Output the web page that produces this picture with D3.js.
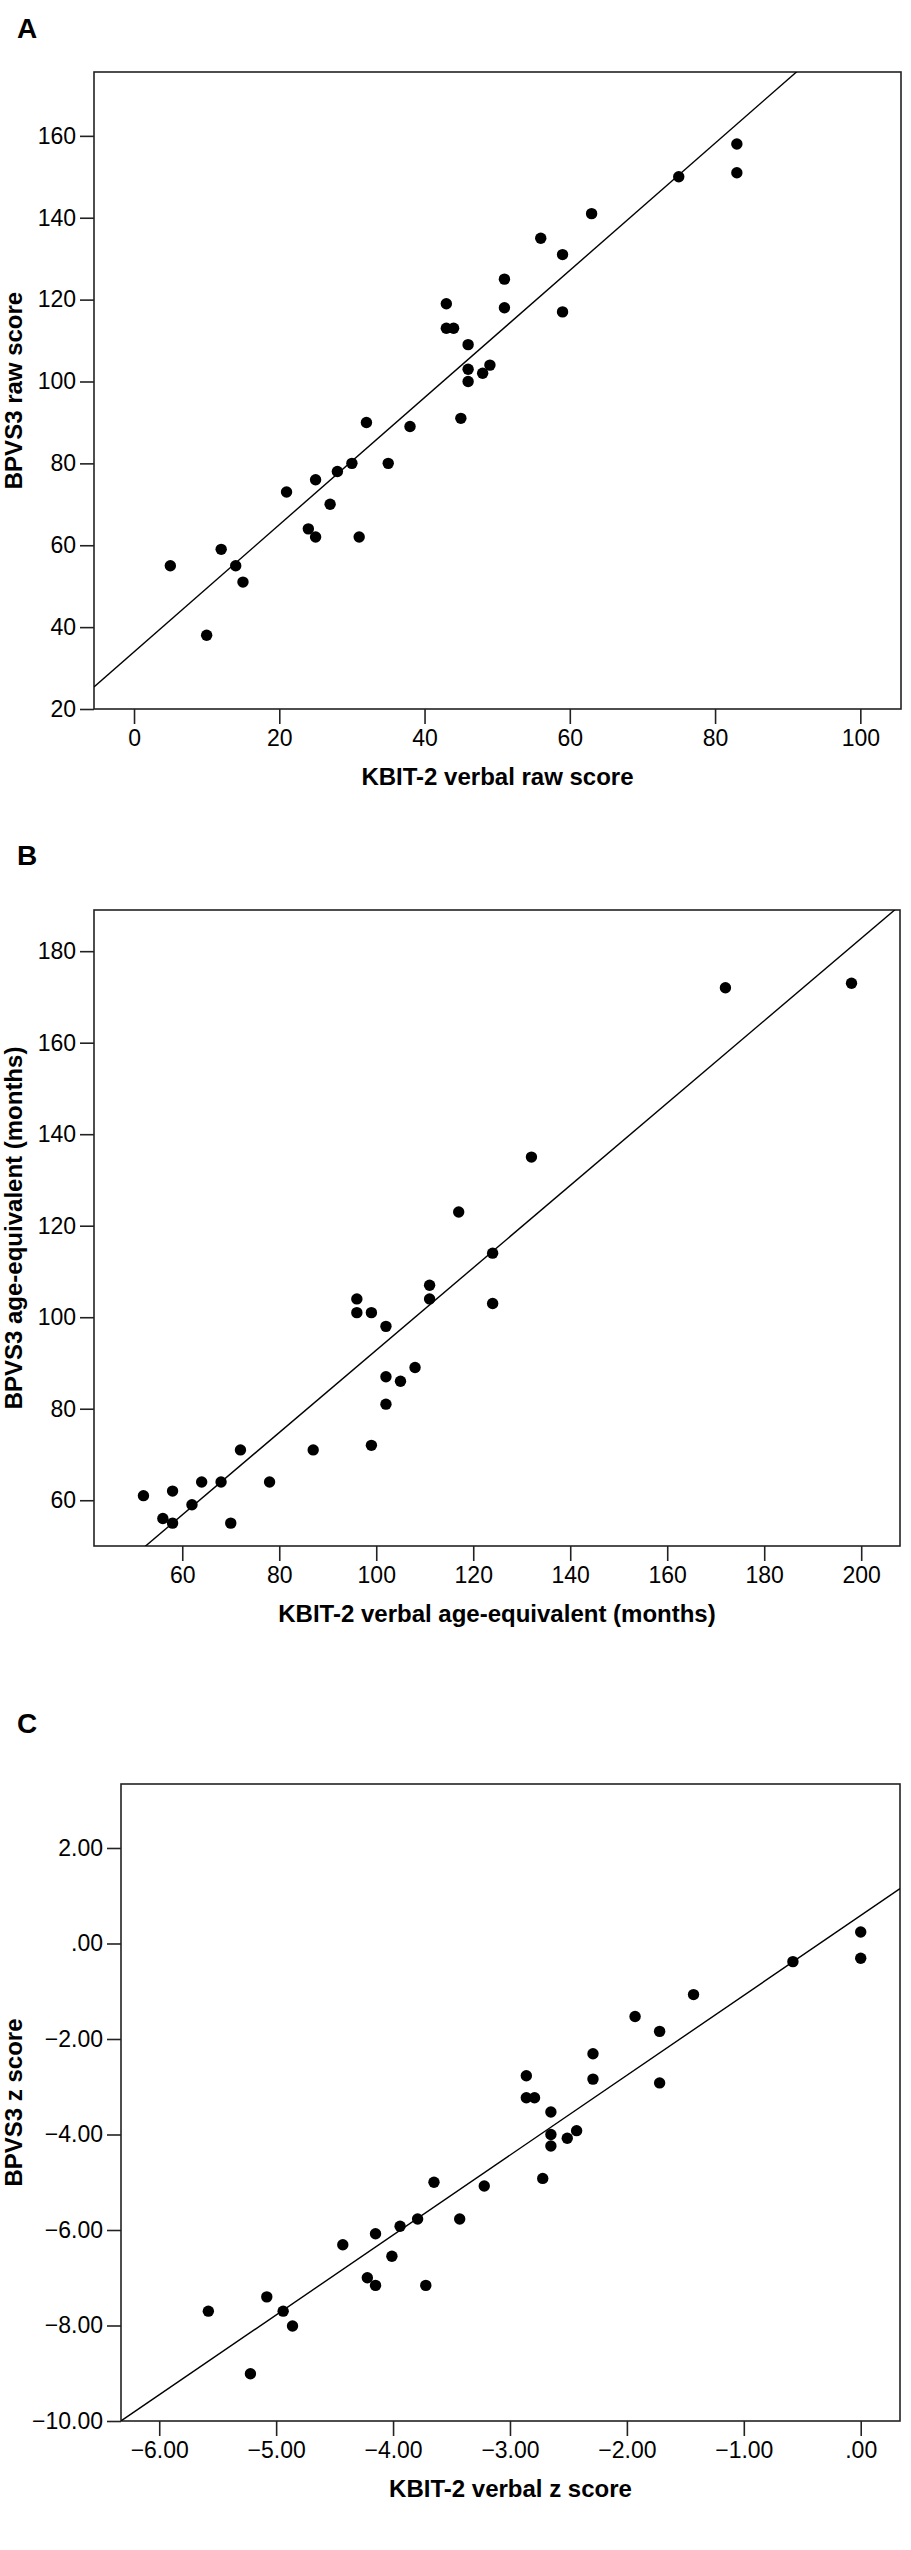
<!DOCTYPE html>
<html>
<head>
<meta charset="utf-8">
<script src="https://cdn.jsdelivr.net/npm/d3@7"></script>
<style>
  body { margin: 0; background: #fff; }
  svg { display: block; font-family: "Liberation Sans", Arial, sans-serif; }
</style>
</head>
<body>
<svg id="chart" width="911" height="2550"></svg>
<script>
// Panel A: raw scores
const rawKbit = [5, 10, 12, 14, 15, 21, 24, 25, 25, 27, 28, 30, 31, 32, 35, 38, 43, 43, 44, 45, 46, 46, 46, 48, 49, 51, 51, 56, 59, 59, 63, 75, 83, 83];
const rawBpvs = [55, 38, 59, 55, 51, 73, 64, 76, 62, 70, 78, 80, 62, 90, 80, 89, 119, 113, 113, 91, 109, 103, 100, 102, 104, 125, 118, 135, 131, 117, 141, 150, 158, 151];
const rawFit = { intercept: 33.96, slope: 1.553 };

// Panel B: age-equivalents (months)
const ageKbit = [52, 56, 58, 58, 62, 64, 68, 70, 72, 78, 87, 96, 96, 99, 99, 102, 102, 102, 105, 108, 111, 111, 117, 124, 124, 132, 172, 198];
const ageBpvs = [61, 56, 62, 55, 59, 64, 64, 55, 71, 64, 71, 104, 101, 101, 72, 98, 87, 81, 86, 89, 107, 104, 123, 114, 103, 135, 172, 173];
const ageFit = { intercept: 2.8, slope: 0.90 };

// Panel C: z scores
const zKbit = [-5.58, -5.22, -5.08, -4.94, -4.86, -4.43, -4.22, -4.15, -4.15, -4.01, -3.94, -3.79, -3.72, -3.65, -3.43, -3.22, -2.86, -2.86, -2.79, -2.72, -2.65, -2.65, -2.65, -2.51, -2.43, -2.29, -2.29, -1.93, -1.72, -1.72, -1.43, -0.58, 0.00, 0.00];
const zBpvs = [-7.70, -9.01, -7.40, -7.70, -8.01, -6.31, -7.00, -6.08, -7.16, -6.55, -5.92, -5.77, -7.16, -5.00, -5.77, -5.08, -2.77, -3.23, -3.23, -4.92, -3.53, -4.00, -4.24, -4.08, -3.92, -2.31, -2.84, -1.53, -1.84, -2.92, -1.07, -0.38, 0.24, -0.31];
const zFit = { intercept: 0.586, slope: 1.673 };

// tick values
const rawXTicks = [0, 20, 40, 60, 80, 100];
const rawYTicks = [20, 40, 60, 80, 100, 120, 140, 160];
const ageXTicks = [60, 80, 100, 120, 140, 160, 180, 200];
const ageYTicks = [60, 80, 100, 120, 140, 160, 180];
const zXTicks = [-6, -5, -4, -3, -2, -1, 0];
const zYTicks = [-10, -8, -6, -4, -2, 0, 2];

const svg = d3.select("#chart");

// SPSS style: ".00" for zero, otherwise two decimals
const spssFmt = v => (Math.abs(v) < 1e-9 ? ".00" : d3.format(".2f")(v));

const panels = [
    {
        id: "A", label: "A", labelY: 38,
        box: { left: 94, right: 901, top: 72, bottom: 709 },
        xDomain: [-5.51, 105.6], yDomain: [20, 175.6],
        xs: rawKbit, ys: rawBpvs, fit: rawFit,
        xTicks: rawXTicks, yTicks: rawYTicks, fmt: d3.format("d"),
        xTitle: "KBIT-2 verbal raw score", yTitle: "BPVS3 raw score"
    },
    {
        id: "B", label: "B", labelY: 865,
        box: { left: 94, right: 900, top: 910, bottom: 1546 },
        xDomain: [41.8, 208], yDomain: [50, 189],
        xs: ageKbit, ys: ageBpvs, fit: ageFit,
        xTicks: ageXTicks, yTicks: ageYTicks, fmt: d3.format("d"),
        xTitle: "KBIT-2 verbal age-equivalent (months)", yTitle: "BPVS3 age-equivalent (months)"
    },
    {
        id: "C", label: "C", labelY: 1733,
        box: { left: 121, right: 900, top: 1784, bottom: 2421 },
        xDomain: [-6.327, 0.336], yDomain: [-10, 3.34],
        xs: zKbit, ys: zBpvs, fit: zFit,
        xTicks: zXTicks, yTicks: zYTicks, fmt: spssFmt,
        xTitle: "KBIT-2 verbal z score", yTitle: "BPVS3 z score"
    }
];

panels.forEach(p => {
    const b = p.box;
    const x = d3.scaleLinear().domain(p.xDomain).range([b.left, b.right]);
    const y = d3.scaleLinear().domain(p.yDomain).range([b.bottom, b.top]);
    const g = svg.append("g");

    // panel letter
    g.append("text")
        .attr("x", 17)
        .attr("y", p.labelY)
        .style("font-size", "28px")
        .style("font-weight", "bold")
        .text(p.label);

    g.append("clipPath")
        .attr("id", "clip" + p.id)
        .append("rect")
        .attr("x", b.left).attr("y", b.top)
        .attr("width", b.right - b.left).attr("height", b.bottom - b.top);

    // axes
    const xAxis = g.append("g")
        .attr("transform", `translate(0,${b.bottom})`)
        .call(d3.axisBottom(x).tickValues(p.xTicks).tickFormat(p.fmt).tickSize(15).tickPadding(6));
    const yAxis = g.append("g")
        .attr("transform", `translate(${b.left},0)`)
        .call(d3.axisLeft(y).tickValues(p.yTicks).tickFormat(p.fmt).tickSize(14).tickPadding(4));

    [xAxis, yAxis].forEach(a => {
        a.select(".domain").remove();
        a.selectAll(".tick line").attr("stroke", "#222").attr("stroke-width", 1.6);
        a.selectAll(".tick text")
            .attr("fill", "#000")
            .style("font-size", "23px")
            .style("font-family", "'Liberation Sans', Arial, sans-serif");
    });

    // frame
    g.append("rect")
        .attr("x", b.left).attr("y", b.top)
        .attr("width", b.right - b.left).attr("height", b.bottom - b.top)
        .attr("fill", "none")
        .attr("stroke", "#222")
        .attr("stroke-width", 1.6);

    // fit line
    const fx = p.xDomain;
    g.append("line")
        .attr("clip-path", `url(#clip${p.id})`)
        .attr("x1", x(fx[0])).attr("y1", y(p.fit.intercept + p.fit.slope * fx[0]))
        .attr("x2", x(fx[1])).attr("y2", y(p.fit.intercept + p.fit.slope * fx[1]))
        .attr("stroke", "#000")
        .attr("stroke-width", 1.4);

    // points
    g.append("g")
        .selectAll("circle")
        .data(p.xs.map((v, i) => [v, p.ys[i]]))
        .join("circle")
        .attr("cx", d => x(d[0]))
        .attr("cy", d => y(d[1]))
        .attr("r", 5.7)
        .attr("fill", "#000");

    // axis titles
    g.append("text")
        .attr("x", (b.left + b.right) / 2)
        .attr("y", b.bottom + 76)
        .attr("text-anchor", "middle")
        .style("font-size", "24px")
        .style("font-weight", "bold")
        .text(p.xTitle);

    g.append("text")
        .attr("transform", `translate(22,${(b.top + b.bottom) / 2}) rotate(-90)`)
        .attr("text-anchor", "middle")
        .style("font-size", "24px")
        .style("font-weight", "bold")
        .text(p.yTitle);
});
</script>
</body>
</html>
